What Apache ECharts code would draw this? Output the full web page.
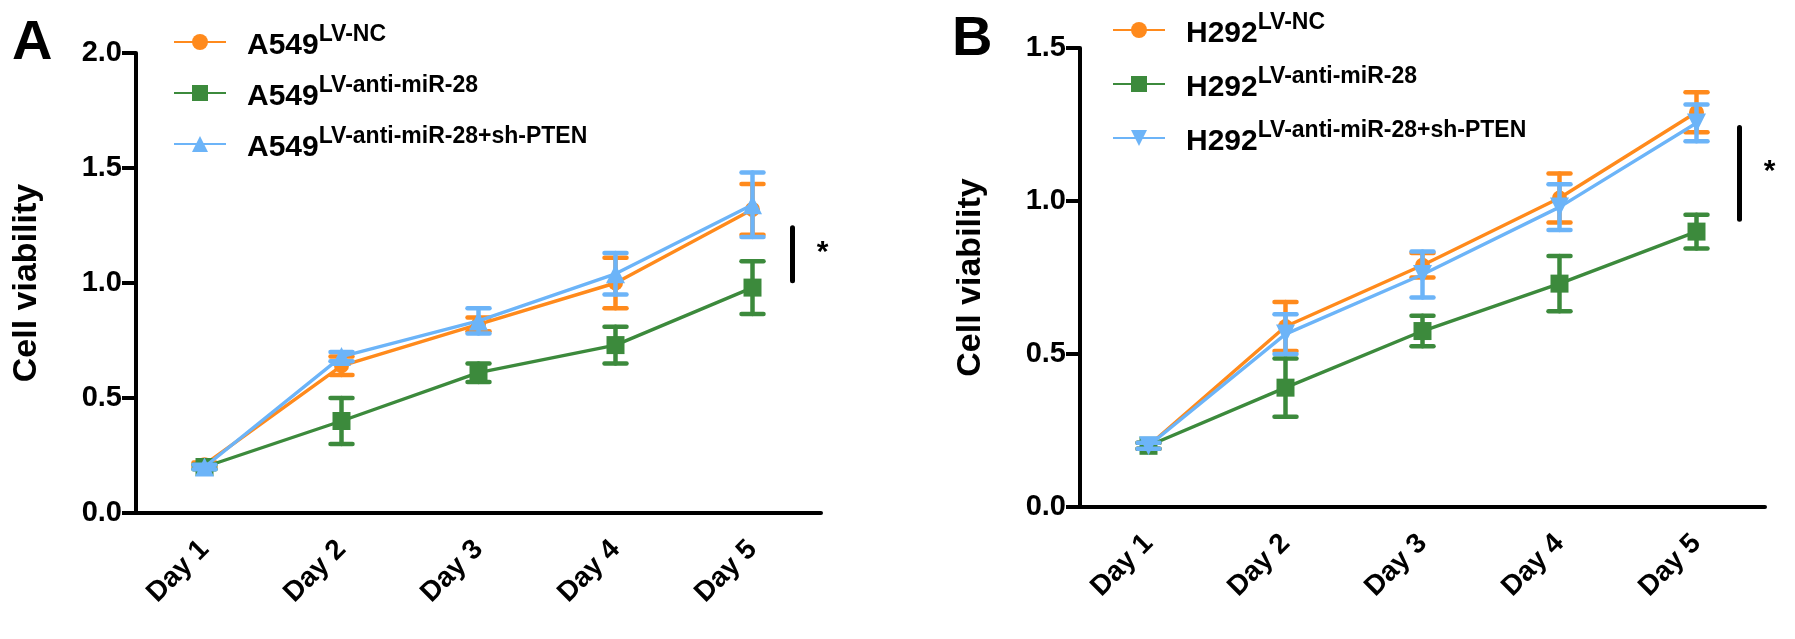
<!DOCTYPE html>
<html>
<head>
<meta charset="utf-8">
<script src="https://cdn.jsdelivr.net/npm/echarts@6/dist/echarts.min.js"></script>
<style>
html,body{margin:0;padding:0;background:#fff;}
#chart{width:1795px;height:639px;}
</style>
</head>
<body>
<div id="chart"></div>
<script>
// ---------- data ----------
const days = ['Day 1', 'Day 2', 'Day 3', 'Day 4', 'Day 5'];
const yTicksA = [0, 0.5, 1.0, 1.5, 2.0];
const yTicksB = [0, 0.5, 1.0, 1.5];

const a549NC      = [0.21, 0.64, 0.82, 1.00, 1.32];
const a549NCErr   = [0.01, 0.04, 0.03, 0.11, 0.11];
const a549Anti    = [0.20, 0.40, 0.61, 0.73, 0.98];
const a549AntiErr = [0.01, 0.10, 0.04, 0.08, 0.115];
const a549Pten    = [0.20, 0.68, 0.835, 1.04, 1.34];
const a549PtenErr = [0.01, 0.02, 0.055, 0.09, 0.14];

const h292NC      = [0.20, 0.59, 0.79, 1.01, 1.29];
const h292NCErr   = [0.01, 0.08, 0.04, 0.08, 0.065];
const h292Anti    = [0.20, 0.39, 0.575, 0.73, 0.90];
const h292AntiErr = [0.01, 0.095, 0.05, 0.09, 0.055];
const h292Pten    = [0.20, 0.565, 0.76, 0.98, 1.255];
const h292PtenErr = [0.01, 0.065, 0.075, 0.075, 0.06];

// significance bar spans (value units) at Day 5
const sigA = [1.01, 1.24];
const sigB = [0.94, 1.24];

const legendA = [['A549', 'LV-NC'], ['A549', 'LV-anti-miR-28'], ['A549', 'LV-anti-miR-28+sh-PTEN']];
const legendB = [['H292', 'LV-NC'], ['H292', 'LV-anti-miR-28'], ['H292', 'LV-anti-miR-28+sh-PTEN']];

// ---------- styles ----------
const ORANGE = '#FF8A1C', GREEN = '#3C8A3C', BLUE = '#6CB4F8';
const FONT = 'Liberation Sans, Arial, sans-serif';

const chart = echarts.init(document.getElementById('chart'), null, {renderer: 'canvas'});

function nameOf(p) { return p[0] + ' ' + p[1]; }

function errSeries(vals, errs, color, gi, z) {
  return {
    type: 'custom', xAxisIndex: gi, yAxisIndex: gi, z: z, clip: false,
    silent: true,
    data: vals.map((v, i) => [i, v - errs[i], v + errs[i]]),
    encode: {x: 0, y: [1, 2]},
    renderItem: function (params, api) {
      const lo = api.coord([api.value(0), api.value(1)]);
      const hi = api.coord([api.value(0), api.value(2)]);
      const hw = 11;
      const st = {stroke: color, lineWidth: 4.5, lineCap: 'round'};
      return {
        type: 'group',
        children: [
          {type: 'line', shape: {x1: lo[0], y1: lo[1], x2: hi[0], y2: hi[1]}, style: st},
          {type: 'line', shape: {x1: lo[0] - hw, y1: lo[1], x2: lo[0] + hw, y2: lo[1]}, style: st},
          {type: 'line', shape: {x1: hi[0] - hw, y1: hi[1], x2: hi[0] + hw, y2: hi[1]}, style: st}
        ]
      };
    }
  };
}

function lineSeries(name, vals, color, symbol, size, gi, z, rotate) {
  return {
    name: name, type: 'line', xAxisIndex: gi, yAxisIndex: gi, z: z,
    data: vals, symbol: symbol, symbolSize: size, symbolRotate: rotate || 0,
    showAllSymbol: true,
    lineStyle: {color: color, width: 3.4},
    itemStyle: {color: color, borderWidth: 0},
    emphasis: {disabled: true},
    animation: false
  };
}

function sigSeries(span, gi, dx) {
  return {
    type: 'custom', xAxisIndex: gi, yAxisIndex: gi, clip: false, silent: true,
    data: [[days.length - 1, span[0], span[1]]],
    encode: {x: 0, y: [1, 2]},
    renderItem: function (params, api) {
      const lo = api.coord([api.value(0), api.value(1)]);
      const hi = api.coord([api.value(0), api.value(2)]);
      return {
        type: 'group',
        children: [
          {type: 'line', shape: {x1: lo[0] + dx, y1: lo[1], x2: hi[0] + dx, y2: hi[1]},
           style: {stroke: '#000', lineWidth: 5, lineCap: 'round'}},
          {type: 'text', x: lo[0] + dx + 30, y: (lo[1] + hi[1]) / 2 - 2,
           style: {text: '*', fill: '#000', font: 'bold 30px ' + FONT, align: 'center', verticalAlign: 'middle'}}
        ]
      };
    }
  };
}

function xAxis(gi) {
  return {
    type: 'category', gridIndex: gi, data: days, boundaryGap: true,
    axisLine: {lineStyle: {color: '#000', width: 4}},
    axisTick: {alignWithLabel: true, length: 15, lineStyle: {color: '#000', width: 4}},
    axisLabel: {rotate: 45, margin: 32, color: '#000', fontSize: 28, fontWeight: 'bold', fontFamily: FONT}
  };
}
function yAxis(gi, max) {
  return {
    type: 'value', gridIndex: gi, min: 0, max: max, interval: 0.5,
    name: 'Cell viability', nameLocation: 'middle', nameGap: 92,
    nameTextStyle: {color: '#000', fontSize: 34, fontWeight: 'bold', fontFamily: FONT},
    splitLine: {show: false},
    axisLine: {show: true, lineStyle: {color: '#000', width: 4}},
    axisTick: {show: true, length: 14, lineStyle: {color: '#000', width: 4}},
    axisLabel: {margin: 14, color: '#000', fontSize: 29, fontWeight: 'bold', fontFamily: FONT,
                formatter: v => v.toFixed(1)}
  };
}

function legendCfg(list, left, top, gap) {
  return {
    orient: 'vertical', left: left, top: top,
    data: list.map(nameOf),
    itemWidth: 52, itemHeight: 20, itemGap: gap,
    selectedMode: false,
    formatter: function (n) {
      const p = list.find(q => nameOf(q) === n);
      return '{m|' + p[0] + '}{s|' + p[1] + '}';
    },
    textStyle: {
      padding: [0, 0, 0, 16],
      rich: {
        m: {fontSize: 30, fontWeight: 'bold', fontFamily: FONT, color: '#000', lineHeight: 38, verticalAlign: 'bottom'},
        s: {fontSize: 23, fontWeight: 'bold', fontFamily: FONT, color: '#000', lineHeight: 22, verticalAlign: 'top'}
      }
    }
  };
}

const option = {
  animation: false,
  backgroundColor: '#fff',
  grid: [
    {left: 136, top: 53, width: 685, height: 460},
    {left: 1080, top: 48, width: 685, height: 459}
  ],
  xAxis: [xAxis(0), xAxis(1)],
  yAxis: [yAxis(0, 2.0), yAxis(1, 1.5)],
  legend: [legendCfg(legendA, 168, 18, 13), legendCfg(legendB, 1107, 6, 16)],
  graphic: [
    {type: 'text', left: 12, top: 16, style: {text: 'A', font: 'bold 56px ' + FONT, fill: '#000'}},
    {type: 'text', left: 952, top: 12, style: {text: 'B', font: 'bold 56px ' + FONT, fill: '#000'}}
  ],
  series: [
    errSeries(a549NC, a549NCErr, ORANGE, 0, 2),
    lineSeries(nameOf(legendA[0]), a549NC, ORANGE, 'circle', 15, 0, 2),
    errSeries(a549Anti, a549AntiErr, GREEN, 0, 3),
    lineSeries(nameOf(legendA[1]), a549Anti, GREEN, 'rect', 18, 0, 3),
    errSeries(a549Pten, a549PtenErr, BLUE, 0, 4),
    lineSeries(nameOf(legendA[2]), a549Pten, BLUE, 'triangle', 19, 0, 4),
    sigSeries(sigA, 0, 40),

    errSeries(h292NC, h292NCErr, ORANGE, 1, 2),
    lineSeries(nameOf(legendB[0]), h292NC, ORANGE, 'circle', 15, 1, 2),
    errSeries(h292Anti, h292AntiErr, GREEN, 1, 3),
    lineSeries(nameOf(legendB[1]), h292Anti, GREEN, 'rect', 18, 1, 3),
    errSeries(h292Pten, h292PtenErr, BLUE, 1, 4),
    lineSeries(nameOf(legendB[2]), h292Pten, BLUE, 'triangle', 19, 1, 4, 180),
    sigSeries(sigB, 1, 43)
  ]
};
chart.setOption(option);
</script>
</body>
</html>
